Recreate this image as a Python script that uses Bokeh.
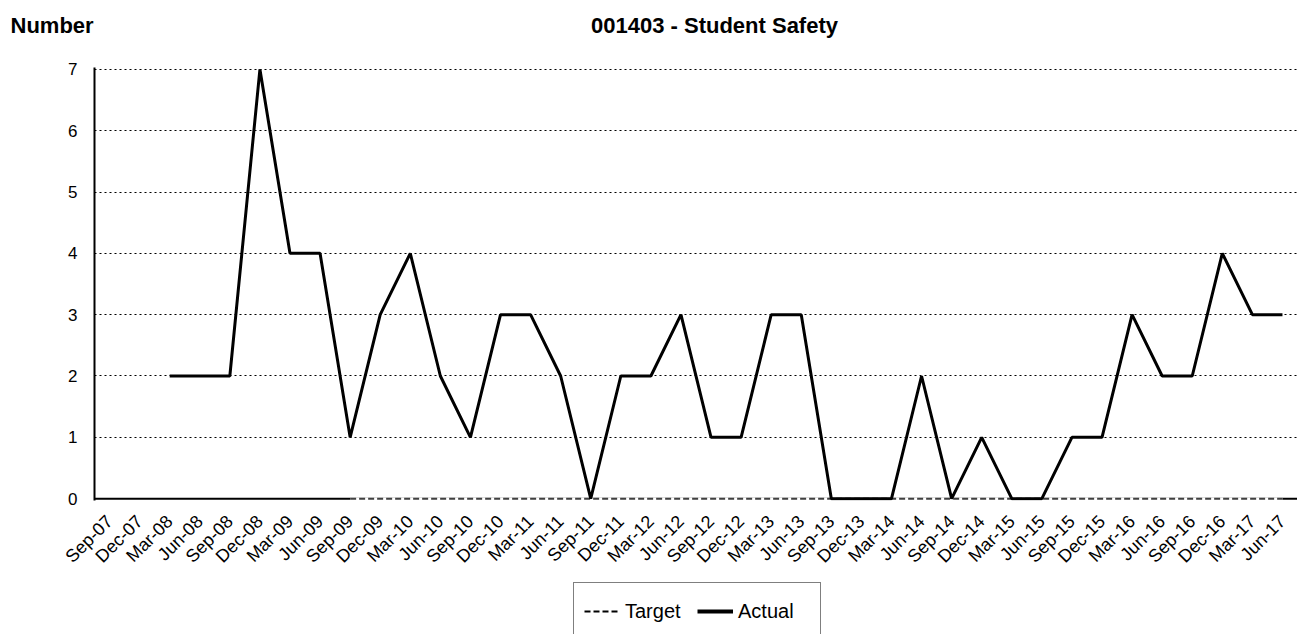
import math
from bokeh.plotting import figure
from bokeh.layouts import column
from bokeh.models import (FactorRange, Range1d, Label, Legend, LegendItem,
                          ColumnDataSource, FixedTicker, Span)
from bokeh.embed import file_html
from bokeh.resources import INLINE

quarters = ["Sep-07", "Dec-07", "Mar-08", "Jun-08", "Sep-08", "Dec-08", "Mar-09", "Jun-09",
            "Sep-09", "Dec-09", "Mar-10", "Jun-10", "Sep-10", "Dec-10", "Mar-11", "Jun-11",
            "Sep-11", "Dec-11", "Mar-12", "Jun-12", "Sep-12", "Dec-12", "Mar-13", "Jun-13",
            "Sep-13", "Dec-13", "Mar-14", "Jun-14", "Sep-14", "Dec-14", "Mar-15", "Jun-15",
            "Sep-15", "Dec-15", "Mar-16", "Jun-16", "Sep-16", "Dec-16", "Mar-17", "Jun-17"]
nan = float("nan")
actual = [nan, nan, 2, 2, 2, 7, 4, 4,
          1, 3, 4, 2, 1, 3, 3, 2,
          0, 2, 2, 3, 1, 1, 3, 3,
          0, 0, 0, 2, 0, 1, 0, 0,
          1, 1, 3, 2, 2, 4, 3, 3]
target = [nan] * 8 + [0] * 32
y_ticks = [0, 1, 2, 3, 4, 5, 6, 7]

FONT = "Liberation Sans"
W = 1297


def blank(height):
    f = figure(width=W, height=height, output_backend="svg", toolbar_location=None,
               x_range=Range1d(0, 1), y_range=Range1d(0, 1),
               x_axis_location=None, y_axis_location=None,
               min_border=0)
    f.grid.visible = False
    f.outline_line_color = None
    return f


head = blank(50)
leg = blank(58)
off = 0
try:
    head.frame_align = False
    leg.frame_align = False
except Exception:
    off = 94

# ---- header ----
head.add_layout(Label(x=10 - off, y=25, x_units="screen", y_units="screen", text="Number",
                      text_font=FONT, text_font_size="22px", text_font_style="bold",
                      text_color="black", text_baseline="middle", text_align="left"))
head.add_layout(Label(x=714 - off, y=25, x_units="screen", y_units="screen",
                      text="001403 - Student Safety",
                      text_font=FONT, text_font_size="22px", text_font_style="bold",
                      text_color="black", text_baseline="middle", text_align="center"))

# ---- main chart ----
src = ColumnDataSource(dict(q=quarters, actual=actual, target=target))

p = figure(width=W, height=526, output_backend="svg", toolbar_location=None,
           x_range=FactorRange(factors=quarters, range_padding=0),
           y_range=Range1d(-0.03, 7.03),
           min_border_left=94, min_border_right=0, min_border_top=17,
           min_border_bottom=76)
p.outline_line_color = None

p.add_layout(Span(location=0, dimension="width", line_color="black", line_width=2,
                  level="underlay"))

p.line("q", "target", source=src, line_color="white", line_width=2.5)
p.line("q", "target", source=src, line_color="#404040", line_width=2, line_dash="6 3")
p.line("q", "actual", source=src, line_color="black", line_width=3)

p.xgrid.visible = False
p.ygrid.grid_line_color = "black"
p.ygrid.grid_line_dash = "2 3"
p.ygrid.grid_line_width = 1

p.yaxis.ticker = FixedTicker(ticks=y_ticks)
p.yaxis.axis_line_color = "black"
p.yaxis.axis_line_width = 2
p.yaxis.major_tick_line_color = None
p.yaxis.minor_tick_line_color = None
p.yaxis.major_label_text_font = FONT
p.yaxis.major_label_text_font_size = "17px"
p.yaxis.major_label_text_color = "black"
p.yaxis.major_label_standoff = 11

p.xaxis.axis_line_color = None
p.xaxis.major_tick_line_color = None
p.xaxis.minor_tick_line_color = None
p.xaxis.major_label_orientation = math.pi / 4
p.xaxis.major_label_text_font = FONT
p.xaxis.major_label_text_font_size = "18px"
p.xaxis.major_label_text_color = "black"
p.xaxis.major_label_standoff = 12

# ---- legend strip ----
lt = leg.line([5, 6], [5, 5], line_color="black", line_width=2, line_dash="6 3")
la = leg.line([5, 6], [5, 5], line_color="black", line_width=4)
legend = Legend(items=[LegendItem(label="Target", renderers=[lt]),
                       LegendItem(label="Actual", renderers=[la])],
                orientation="horizontal", location=(573 - off, -6),
                label_text_font=FONT, label_text_font_size="20px",
                label_text_color="black", label_width=72,
                border_line_color="black", border_line_width=1,
                glyph_width=36, glyph_height=36, label_standoff=5,
                spacing=0, padding=10, margin=0)
leg.add_layout(legend)

layout = column(head, p, leg, spacing=0)
open("out.html", "w").write(file_html(layout, INLINE))
